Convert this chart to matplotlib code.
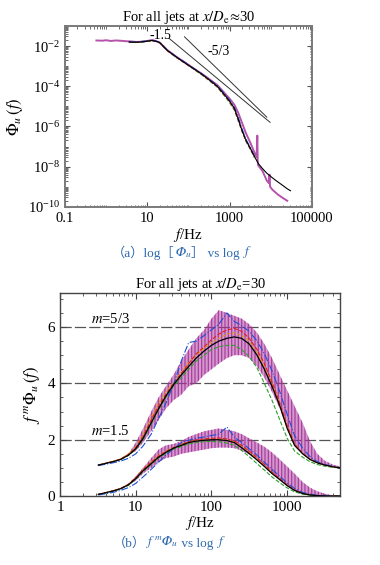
import numpy as np
import matplotlib
matplotlib.use("Agg")
from matplotlib import pyplot as plt
from matplotlib import ticker

plt.rcParams['font.family'] = ['Liberation Serif', 'Noto Sans CJK SC', 'DejaVu Sans']
plt.rcParams['mathtext.fontset'] = 'stix'
plt.rcParams['font.size'] = 10
plt.rcParams['hatch.linewidth'] = 0.9

# ---- panel (a): spectra, log-log ----
freqA = [3.6, 5, 7, 10, 13, 16, 20, 30, 50, 80, 130, 200, 300, 500, 800, 1000, 1300, 1600,
         2000, 2500, 3200, 4000, 5000, 6300, 8000, 10000, 13000, 18000, 25000, 30000]
phiBlack = [1.6e-2, 1.55e-2, 1.6e-2, 1.75e-2, 1.9e-2, 1.75e-2, 1.5e-2, 6.3e-3, 2.9e-3, 1.5e-3,
            7.8e-4, 4.3e-4, 2.3e-4, 1.0e-4, 3.2e-5, 1.8e-5, 7.9e-6, 2.5e-6, 6.3e-7, 2.0e-7,
            7.9e-8, 3.2e-8, 1.4e-8, 7.9e-9, 4.7e-9, 3.2e-9, 2.1e-9, 1.3e-9, 7.9e-10, 6.3e-10]
# the other jets stop at 4000 Hz
phiRed = [1.55e-2, 1.6e-2, 1.65e-2, 1.8e-2, 1.85e-2, 1.7e-2, 1.45e-2, 6.0e-3, 2.8e-3, 1.45e-3,
          7.6e-4, 4.2e-4, 2.2e-4, 9.5e-5, 3.0e-5, 1.7e-5, 7.0e-6, 2.2e-6, 5.8e-7, 1.9e-7, 7.5e-8, 3.0e-8]
phiGreen = [1.6e-2, 1.5e-2, 1.55e-2, 1.7e-2, 1.8e-2, 1.7e-2, 1.45e-2, 6.1e-3, 2.8e-3, 1.45e-3,
            7.4e-4, 4.0e-4, 2.1e-4, 9.0e-5, 2.8e-5, 1.5e-5, 6.5e-6, 2.0e-6, 5.5e-7, 1.8e-7, 7.0e-8, 2.8e-8]
phiBlue = [1.65e-2, 1.6e-2, 1.7e-2, 1.8e-2, 2.0e-2, 1.8e-2, 1.55e-2, 6.5e-3, 3.0e-3, 1.6e-3,
           8.2e-4, 4.5e-4, 2.4e-4, 1.1e-4, 3.6e-5, 2.0e-5, 9.0e-6, 3.0e-6, 7.5e-7, 2.3e-7, 8.5e-8, 3.4e-8]

freqMagA = [0.58, 0.8, 1.0, 1.3, 1.7, 2.2, 3.0, 4.0, 5.5, 7.5, 10, 13, 16, 20, 30, 50, 80, 130,
            200, 300, 500, 800, 1000, 1300, 1600, 2000, 2500, 3200, 4000, 4500, 4700, 4800, 4900,
            5200, 6300, 8000, 9000, 9300, 9600, 11000, 15000, 21000, 25000]
phiMagA = [1.9e-2, 1.85e-2, 1.95e-2, 1.8e-2, 1.9e-2, 1.85e-2, 1.75e-2, 1.7e-2, 1.6e-2, 1.65e-2,
           1.8e-2, 2.0e-2, 1.8e-2, 1.5e-2, 6.5e-3, 3.0e-3, 1.6e-3, 8.0e-4, 4.5e-4, 2.5e-4,
           1.15e-4, 4.0e-5, 2.4e-5, 1.2e-5, 5.0e-6, 1.5e-6, 4.5e-7, 1.5e-7, 5.0e-8, 3.0e-8,
           3.5e-7, 2.0e-8, 1.2e-8, 1.0e-8, 6.0e-9, 2.0e-9, 1.5e-9, 4.0e-9, 1.0e-9, 7.0e-10,
           4.0e-10, 2.5e-10, 2.0e-10]

# reference slopes (end points as drawn)
slope15F = [34, 9600]
slope15Y = [2.4e-2, 1.6e-6]
slope53F = [80, 8000]
slope53Y = [2.9e-2, 2.9e-6]

# ---- panel (b): premultiplied spectra ----
freqB = [3.2, 4, 5, 6.3, 8, 10, 12.5, 16, 20, 25, 31.5, 40, 50, 63, 80, 100, 125, 160, 200,
         250, 315, 400, 500, 630, 800, 1000, 1250, 1600, 2000, 2500, 3150, 4000, 5000]
# m = 5/3 group
upBlack = [1.1, 1.16, 1.22, 1.3, 1.45, 1.68, 2.05, 2.6, 3.1, 3.55, 3.95, 4.3, 4.6, 4.9, 5.15, 5.35,
           5.5, 5.6, 5.65, 5.6, 5.4, 5.0, 4.5, 3.9, 3.2, 2.4, 1.8, 1.5, 1.3, 1.18, 1.1, 1.04, 1.0]
upRed = [1.1, 1.16, 1.23, 1.31, 1.48, 1.72, 2.12, 2.7, 3.2, 3.6, 4.0, 4.35, 4.7, 5.05, 5.3, 5.55,
         5.75, 5.9, 5.95, 5.85, 5.6, 5.2, 4.7, 4.05, 3.3, 2.5, 1.85, 1.52, 1.31, 1.18, 1.1, 1.04, 1.0]
upGreen = [1.1, 1.15, 1.21, 1.29, 1.44, 1.66, 2.0, 2.55, 3.05, 3.5, 3.9, 4.2, 4.5, 4.8, 5.0, 5.2,
           5.3, 5.35, 5.35, 5.2, 4.95, 4.55, 4.0, 3.4, 2.7, 2.05, 1.6, 1.38, 1.22, 1.12, 1.06, 1.02, 1.0]
upBlue = [1.08, 1.13, 1.18, 1.24, 1.34, 1.5, 1.78, 2.2, 2.75, 3.3, 3.95, 4.8, 5.45, 5.5, 5.7, 5.9,
          6.1, 6.5, 6.2, 6.05, 5.85, 5.5, 5.05, 4.45, 3.7, 2.9, 2.15, 1.7, 1.4, 1.22, 1.12, 1.05, 1.0]
upOrange = [1.1, 1.17, 1.24, 1.32, 1.5, 1.75, 2.2, 2.8, 3.3, 3.7, 4.05, 4.4, 4.75, 5.0, 5.25, 5.45,
            5.6, 5.75, 5.8, 5.7, 5.5, 5.1, 4.6, 4.0, 3.3, 2.5, 1.85, 1.52, 1.31, 1.18, 1.1, 1.04, 1.0]
upMagLo = [1.1, 1.16, 1.22, 1.3, 1.45, 1.6, 1.9, 2.3, 2.7, 3.1, 3.4, 3.6, 3.9, 4.0, 4.3, 4.5,
           4.7, 4.9, 5.0, 5.0, 4.9, 4.6, 4.2, 3.7, 3.1, 2.4, 1.8, 1.5, 1.3, 1.18, 1.1, 1.04, 1.0]
upMagHi = [1.12, 1.18, 1.25, 1.33, 1.5, 1.9, 2.4, 3.0, 3.5, 3.9, 4.3, 4.8, 5.2, 5.6, 5.9, 6.3,
           6.6, 6.5, 6.4, 6.3, 6.1, 5.8, 5.4, 4.9, 4.3, 3.75, 3.2, 2.6, 1.95, 1.5, 1.25, 1.12, 1.05]
# m = 1.5 group
loBlack = [0.06, 0.12, 0.18, 0.26, 0.4, 0.62, 0.9, 1.15, 1.38, 1.55, 1.7, 1.8, 1.9, 1.95, 1.98, 2.0,
           2.0, 1.97, 1.9, 1.72, 1.51, 1.28, 1.05, 0.8, 0.58, 0.37, 0.2, 0.09, 0.04, 0.015, 0.005, 0.0, 0.0]
loRed = [0.06, 0.12, 0.19, 0.27, 0.42, 0.65, 0.94, 1.2, 1.42, 1.58, 1.72, 1.83, 1.93, 2.0, 2.03, 2.05,
         2.06, 2.03, 1.96, 1.8, 1.6, 1.36, 1.12, 0.86, 0.62, 0.4, 0.22, 0.1, 0.045, 0.02, 0.005, 0.0, 0.0]
loGreen = [0.06, 0.11, 0.17, 0.25, 0.38, 0.6, 0.88, 1.12, 1.35, 1.52, 1.66, 1.76, 1.85, 1.9, 1.93, 1.94,
           1.93, 1.88, 1.8, 1.62, 1.4, 1.15, 0.92, 0.68, 0.47, 0.29, 0.15, 0.07, 0.03, 0.01, 0.0, 0.0, 0.0]
loBlue = [0.04, 0.08, 0.13, 0.2, 0.3, 0.45, 0.68, 0.95, 1.2, 1.45, 1.68, 1.9, 1.98, 2.05, 2.1, 2.15,
          2.2, 2.45, 2.1, 1.9, 1.68, 1.45, 1.2, 0.95, 0.7, 0.46, 0.27, 0.13, 0.06, 0.025, 0.01, 0.0, 0.0]
loOrange = [0.06, 0.12, 0.19, 0.27, 0.42, 0.66, 0.95, 1.22, 1.44, 1.6, 1.73, 1.84, 1.92, 1.97, 2.0, 2.02,
            2.02, 1.99, 1.92, 1.76, 1.55, 1.32, 1.08, 0.82, 0.6, 0.38, 0.21, 0.1, 0.04, 0.015, 0.005, 0.0, 0.0]
loMagLo = [0.06, 0.12, 0.18, 0.26, 0.38, 0.55, 0.8, 1.0, 1.2, 1.35, 1.4, 1.5, 1.55, 1.6, 1.65, 1.7,
           1.72, 1.72, 1.7, 1.62, 1.48, 1.28, 1.05, 0.8, 0.58, 0.37, 0.2, 0.09, 0.04, 0.015, 0.005, 0.0, 0.0]
loMagHi = [0.07, 0.13, 0.2, 0.28, 0.42, 0.7, 1.0, 1.35, 1.65, 1.8, 1.85, 1.95, 2.1, 2.2, 2.3, 2.35,
           2.4, 2.35, 2.3, 2.2, 2.05, 1.9, 1.75, 1.55, 1.3, 1.05, 0.8, 0.5, 0.3, 0.17, 0.08, 0.03, 0.01]

refLevels = [2, 4, 6]

magenta = '#a8349c'
captionColor = '#2f6aae'


def caption(fig, ax, x, y, pieces):
    # chain text pieces left to right so CJK brackets and mathtext can be mixed
    prev = fig.text(x, y, pieces[0], ha='left', va='baseline', fontsize=9.5, color=captionColor)
    for s in pieces[1:]:
        prev = ax.annotate(s, xy=(1, 0), xycoords=prev, ha='left', va='bottom',
                           fontsize=9.5, color=captionColor, annotation_clip=False)
    return prev


fig = plt.figure(figsize=(3.8, 5.65), dpi=100)
axA = fig.add_axes([0.171, 0.634, 0.650, 0.320])
axB = fig.add_axes([0.158, 0.122, 0.737, 0.359])

# ---------- panel (a)
nA = len(phiRed)
axA.plot(freqMagA, phiMagA, color=magenta, lw=1.4, alpha=0.85, zorder=2)
axA.plot(freqA[:nA], phiGreen, color='#2ca02c', lw=0.8, ls='--', zorder=3)
axA.plot(freqA[:nA], phiRed, color='#e02020', lw=0.8, ls='--', zorder=3)
axA.plot(freqA[:nA], phiBlue, color='#1f4fd0', lw=0.8, ls='-.', zorder=3)
axA.plot(freqA, phiBlack, color='black', lw=0.8, zorder=4)
axA.plot(slope15F, slope15Y, color='#333333', lw=0.7)
axA.plot(slope53F, slope53Y, color='#333333', lw=0.7)
axA.text(21, 3.5e-2, '-1.5', ha='center', va='center', fontsize=10)
axA.text(525, 5.2e-3, '-5/3', ha='center', va='center', fontsize=10)

axA.set_xscale('log')
axA.set_yscale('log')
axA.set_xlim(0.1, 1e5)
axA.set_ylim(1e-10, 1e-1)
axA.set_xticks([0.1, 10, 1000, 100000])
axA.set_xticklabels(['0.1', '10', '1000', '100000'])
axA.xaxis.set_minor_locator(ticker.LogLocator(base=10, subs=np.arange(1, 10), numticks=100))
axA.xaxis.set_minor_formatter(ticker.NullFormatter())
axA.set_yticks([1e-10, 1e-8, 1e-6, 1e-4, 1e-2])
axA.yaxis.set_major_formatter(ticker.LogFormatterSciNotation())
axA.yaxis.set_minor_locator(ticker.LogLocator(base=10, subs=np.arange(1, 10), numticks=100))
axA.yaxis.set_minor_formatter(ticker.NullFormatter())
axA.tick_params(which='both', direction='in', top=True, right=True, labelsize=10.5, colors='#555555',
                labelcolor='black')
axA.tick_params(which='major', length=3.5, width=0.8)
axA.tick_params(which='minor', length=1.8, width=0.6)
for sp in axA.spines.values():
    sp.set_color('#7a7a7a')
    sp.set_linewidth(1.4)
axA.set_title(r'For all jets at $x/D_{\mathrm{e}}\!\approx\!$30', fontsize=10.5, pad=3)
axA.set_xlabel(r'$f$/Hz', fontsize=11, labelpad=1)
axA.set_ylabel(r'$\Phi_u\,(f)$', fontsize=12, labelpad=2)

caption(fig, axA, 0.295, 0.545, ['（a）log［', '$\U0001D6F7_u$', '］ vs log ', r'$f$'])

# ---------- panel (b)
for lvl in refLevels:
    axB.axhline(lvl, color='#555555', lw=0.9, ls=(0, (9, 2.5)), zorder=1)

for lo, hi in [(upMagLo, upMagHi), (loMagLo, loMagHi)]:
    axB.fill_between(freqB, lo, hi, facecolor=magenta, alpha=0.5, lw=0, zorder=2)
    axB.fill_between(freqB, lo, hi, facecolor='none', edgecolor=magenta, hatch='|||||',
                     lw=0, alpha=0.9, zorder=2)

groups = [(upGreen, upRed, upBlue, upOrange, upBlack), (loGreen, loRed, loBlue, loOrange, loBlack)]
for green, red, blue, orange, black in groups:
    axB.plot(freqB, green, color='#2ca02c', lw=0.8, ls='--', zorder=3)
    axB.plot(freqB, orange, color='#e0a010', lw=0.7, ls='--', zorder=3)
    axB.plot(freqB, red, color='#e02020', lw=0.8, ls='--', zorder=3)
    axB.plot(freqB, blue, color='#1f4fd0', lw=0.8, ls='-.', zorder=3)
    axB.plot(freqB, black, color='black', lw=0.9, zorder=4)

axB.text(2.6, 6.05, r'$m$=5/3', ha='left', va='bottom', fontsize=10.5)
axB.text(2.6, 2.05, r'$m$=1.5', ha='left', va='bottom', fontsize=10.5)

axB.set_xscale('log')
axB.set_xlim(1, 5000)
axB.set_ylim(0, 7.2)
axB.set_xticks([1, 10, 100, 1000])
axB.set_xticklabels(['1', '10', '100', '1000'])
axB.xaxis.set_minor_locator(ticker.LogLocator(base=10, subs=np.arange(2, 10), numticks=100))
axB.xaxis.set_minor_formatter(ticker.NullFormatter())
axB.set_yticks([0, 2, 4, 6])
axB.yaxis.set_minor_locator(ticker.MultipleLocator(0.5))
axB.tick_params(which='both', direction='in', top=True, right=True, labelsize=11, colors='#444444',
                labelcolor='black')
axB.tick_params(which='major', length=4, width=0.8)
axB.tick_params(which='minor', length=2.2, width=0.6)
for sp in axB.spines.values():
    sp.set_color('#444444')
    sp.set_linewidth(1.0)
axB.set_title(r'For all jets at $x/D_{\mathrm{e}}$=30', fontsize=10.5, pad=3)
axB.set_xlabel(r'$f$/Hz', fontsize=11, labelpad=0)
axB.set_ylabel(r'$f^{\,m}\Phi_u\,(f)$', fontsize=12, labelpad=4)

caption(fig, axB, 0.297, 0.032, ['（b）', '$f^{\\,m}\U0001D6F7_u$', ' vs log ', r'$f$'])

fig.savefig('out.png', dpi=100)
